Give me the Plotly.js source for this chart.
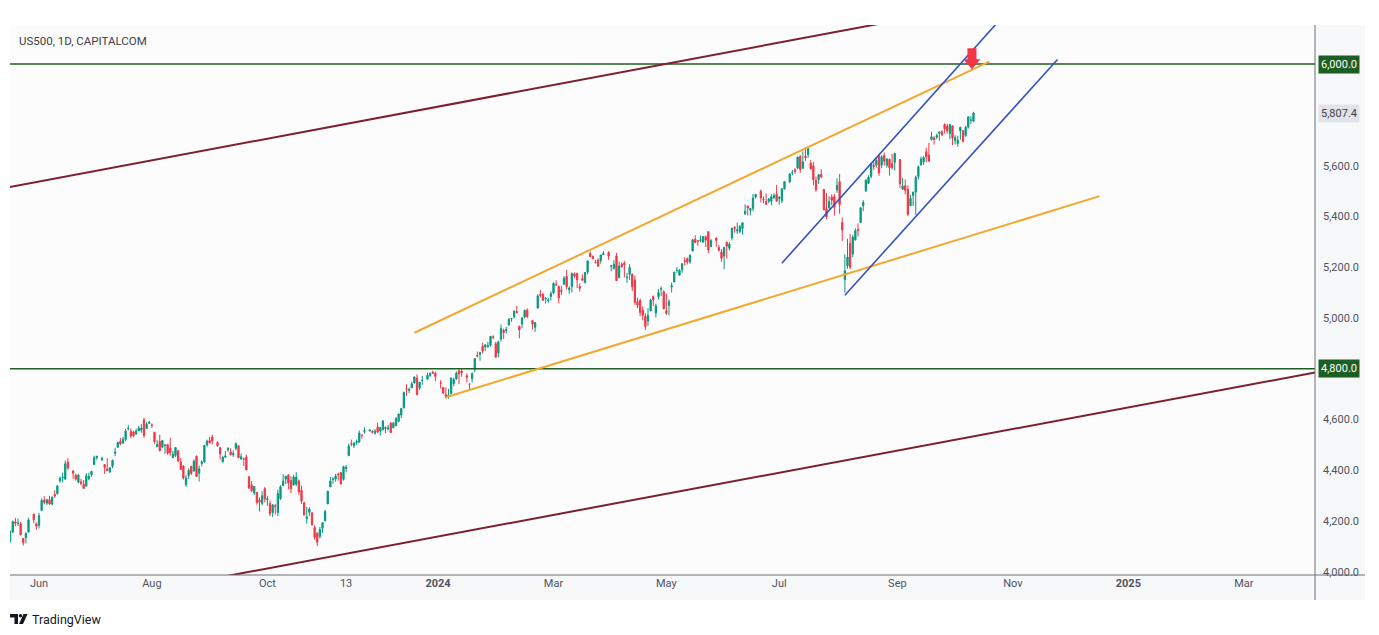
<!DOCTYPE html>
<html>
<head>
<meta charset="utf-8">
<script src="https://cdn.plot.ly/plotly-3.0.1.min.js"></script>
<style>
  html,body{margin:0;padding:0;background:#ffffff;}
  #chart{width:1379px;height:635px;}
</style>
</head>
<body>
<div id="chart"></div>
<script>
// ---------------- DATA ----------------
const dates = [
 '2023-05-17','2023-05-18','2023-05-19','2023-05-22','2023-05-23','2023-05-24','2023-05-25','2023-05-26','2023-05-30','2023-05-31',
 '2023-06-01','2023-06-02','2023-06-05','2023-06-06','2023-06-07','2023-06-08','2023-06-09','2023-06-12','2023-06-13','2023-06-14','2023-06-15','2023-06-16','2023-06-20','2023-06-21','2023-06-22','2023-06-23','2023-06-26','2023-06-27','2023-06-28','2023-06-29','2023-06-30',
 '2023-07-03','2023-07-05','2023-07-06','2023-07-07','2023-07-10','2023-07-11','2023-07-12','2023-07-13','2023-07-14','2023-07-17','2023-07-18','2023-07-19','2023-07-20','2023-07-21','2023-07-24','2023-07-25','2023-07-26','2023-07-27','2023-07-28','2023-07-31',
 '2023-08-01','2023-08-02','2023-08-03','2023-08-04','2023-08-07','2023-08-08','2023-08-09','2023-08-10','2023-08-11','2023-08-14','2023-08-15','2023-08-16','2023-08-17','2023-08-18','2023-08-21','2023-08-22','2023-08-23','2023-08-24','2023-08-25','2023-08-28','2023-08-29','2023-08-30','2023-08-31',
 '2023-09-01','2023-09-05','2023-09-06','2023-09-07','2023-09-08','2023-09-11','2023-09-12','2023-09-13','2023-09-14','2023-09-15','2023-09-18','2023-09-19','2023-09-20','2023-09-21','2023-09-22','2023-09-25','2023-09-26','2023-09-27','2023-09-28','2023-09-29',
 '2023-10-02','2023-10-03','2023-10-04','2023-10-05','2023-10-06','2023-10-09','2023-10-10','2023-10-11','2023-10-12','2023-10-13','2023-10-16','2023-10-17','2023-10-18','2023-10-19','2023-10-20','2023-10-23','2023-10-24','2023-10-25','2023-10-26','2023-10-27','2023-10-30','2023-10-31',
 '2023-11-01','2023-11-02','2023-11-03','2023-11-06','2023-11-07','2023-11-08','2023-11-09','2023-11-10','2023-11-13','2023-11-14','2023-11-15','2023-11-16','2023-11-17','2023-11-20','2023-11-21','2023-11-22','2023-11-24','2023-11-27','2023-11-28','2023-11-29','2023-11-30',
 '2023-12-01','2023-12-04','2023-12-05','2023-12-06','2023-12-07','2023-12-08','2023-12-11','2023-12-12','2023-12-13','2023-12-14','2023-12-15','2023-12-18','2023-12-19','2023-12-20','2023-12-21','2023-12-22','2023-12-26','2023-12-27','2023-12-28','2023-12-29',
 '2024-01-02','2024-01-03','2024-01-04','2024-01-05','2024-01-08','2024-01-09','2024-01-10','2024-01-11','2024-01-12','2024-01-16','2024-01-17','2024-01-18','2024-01-19','2024-01-22','2024-01-23','2024-01-24','2024-01-25','2024-01-26','2024-01-29','2024-01-30','2024-01-31',
 '2024-02-01','2024-02-02','2024-02-05','2024-02-06','2024-02-07','2024-02-08','2024-02-09','2024-02-12','2024-02-13','2024-02-14','2024-02-15','2024-02-16','2024-02-20','2024-02-21','2024-02-22','2024-02-23','2024-02-26','2024-02-27','2024-02-28','2024-02-29',
 '2024-03-01','2024-03-04','2024-03-05','2024-03-06','2024-03-07','2024-03-08','2024-03-11','2024-03-12','2024-03-13','2024-03-14','2024-03-15','2024-03-18','2024-03-19','2024-03-20','2024-03-21','2024-03-22','2024-03-25','2024-03-26','2024-03-27','2024-03-28',
 '2024-04-01','2024-04-02','2024-04-03','2024-04-04','2024-04-05','2024-04-08','2024-04-09','2024-04-10','2024-04-11','2024-04-12','2024-04-15','2024-04-16','2024-04-17','2024-04-18','2024-04-19','2024-04-22','2024-04-23','2024-04-24','2024-04-25','2024-04-26','2024-04-29','2024-04-30',
 '2024-05-01','2024-05-02','2024-05-03','2024-05-06','2024-05-07','2024-05-08','2024-05-09','2024-05-10','2024-05-13','2024-05-14','2024-05-15','2024-05-16','2024-05-17','2024-05-20','2024-05-21','2024-05-22','2024-05-23','2024-05-24','2024-05-28','2024-05-29','2024-05-30','2024-05-31',
 '2024-06-03','2024-06-04','2024-06-05','2024-06-06','2024-06-07','2024-06-10','2024-06-11','2024-06-12','2024-06-13','2024-06-14','2024-06-17','2024-06-18','2024-06-20','2024-06-21','2024-06-24','2024-06-25','2024-06-26','2024-06-27','2024-06-28',
 '2024-07-01','2024-07-02','2024-07-03','2024-07-05','2024-07-08','2024-07-09','2024-07-10','2024-07-11','2024-07-12','2024-07-15','2024-07-16','2024-07-17','2024-07-18','2024-07-19','2024-07-22','2024-07-23','2024-07-24','2024-07-25','2024-07-26','2024-07-29','2024-07-30','2024-07-31',
 '2024-08-01','2024-08-02','2024-08-05','2024-08-06','2024-08-07','2024-08-08','2024-08-09','2024-08-12','2024-08-13','2024-08-14','2024-08-15','2024-08-16','2024-08-19','2024-08-20','2024-08-21','2024-08-22','2024-08-23','2024-08-26','2024-08-27','2024-08-28','2024-08-29','2024-08-30',
 '2024-09-03','2024-09-04','2024-09-05','2024-09-06','2024-09-09','2024-09-10','2024-09-11','2024-09-12','2024-09-13','2024-09-16','2024-09-17','2024-09-18','2024-09-19','2024-09-20','2024-09-23','2024-09-24','2024-09-25','2024-09-26','2024-09-27','2024-09-30',
 '2024-10-01','2024-10-02','2024-10-03','2024-10-04','2024-10-07','2024-10-08','2024-10-09','2024-10-10','2024-10-11'
];
const open = [
 4122,4157,4197,4191,4190,4132,4135,4157,4227,4190,
 4184,4242,4283,4271,4285,4268,4305,4308,4359,4371,4366,4433,4397,4381,4354,4355,4345,4338,4367,4383,4423,
 4450,4442,4423,4405,4394,4416,4467,4491,4514,4508,4522,4564,4554,4551,4543,4556,4558,4599,4565,4585,
 4579,4550,4494,4514,4491,4498,4502,4488,4450,4459,4478,4433,4417,4344,4380,4416,4397,4456,4389,4427,4433,4500,4518,
 4531,4510,4490,4434,4452,4481,4473,4462,4487,4497,4445,4445,4453,4375,4342,4311,4313,4283,4270,4328,
 4284,4270,4234,4260,4234,4289,4340,4366,4381,4360,4342,4346,4358,4322,4273,4210,4235,4233,4175,4153,4140,4172,
 4202,4268,4335,4364,4366,4385,4391,4365,4407,4458,4505,4497,4510,4511,4538,4553,4555,4554,4546,4571,4555,
 4560,4565,4564,4586,4568,4576,4593,4618,4647,4721,4715,4725,4744,4764,4725,4754,4759,4774,4786,4783,
 4745,4726,4698,4690,4703,4742,4760,4792,4791,4773,4739,4761,4797,4853,4857,4888,4886,4888,4892,4925,4899,
 4862,4917,4951,4950,4973,4996,5005,5026,4967,4977,5004,5031,4990,4964,5039,5093,5093,5075,5068,5085,
 5099,5131,5124,5109,5133,5164,5111,5124,5174,5175,5124,5155,5139,5181,5254,5243,5219,5228,5226,5250,
 5258,5205,5194,5245,5159,5212,5217,5158,5172,5172,5150,5064,5069,5031,5006,4988,5028,5084,5020,5084,5114,5103,
 5029,5050,5122,5142,5188,5169,5190,5226,5234,5221,5264,5310,5304,5305,5299,5320,5340,5281,5315,5278,5260,5244,
 5298,5275,5315,5357,5343,5341,5353,5410,5441,5424,5432,5477,5499,5467,5459,5460,5460,5474,5488,
 5471,5462,5508,5537,5572,5584,5591,5636,5590,5638,5644,5610,5599,5543,5545,5565,5506,5429,5433,5477,5478,5505,
 5537,5376,5152,5206,5294,5252,5308,5350,5376,5442,5501,5530,5558,5602,5603,5637,5602,5640,5602,5625,5608,5613,
 5624,5507,5521,5507,5442,5483,5496,5557,5603,5615,5655,5642,5702,5709,5712,5727,5733,5762,5755,5727,
 5757,5699,5688,5737,5738,5719,5752,5779,5775
];
const high = [
 4164,4202,4213,4210,4198,4133,4157,4213,4231,4195,
 4233,4290,4299,4288,4300,4298,4322,4340,4376,4391,4439,4448,4401,4387,4384,4367,4362,4389,4391,4399,4458,
 4456,4454,4423,4448,4412,4443,4489,4513,4528,4532,4563,4579,4565,4556,4564,4576,4582,4607,4590,4595,
 4585,4551,4519,4540,4520,4504,4503,4528,4477,4491,4478,4449,4421,4382,4408,4418,4443,4458,4419,4440,4501,4521,4532,
 4541,4514,4491,4457,4476,4491,4487,4479,4511,4498,4467,4450,4462,4376,4358,4338,4316,4293,4318,4334,
 4300,4281,4268,4268,4324,4341,4385,4378,4386,4377,4383,4393,4364,4340,4276,4256,4255,4235,4183,4156,4177,4195,
 4245,4319,4374,4373,4386,4391,4393,4418,4421,4505,4521,4511,4521,4557,4542,4569,4561,4558,4563,4588,4570,
 4596,4572,4579,4590,4590,4610,4623,4644,4710,4739,4726,4749,4769,4778,4749,4772,4785,4786,4793,4789,
 4755,4729,4727,4721,4765,4765,4790,4798,4803,4782,4744,4786,4842,4868,4866,4903,4898,4906,4929,4932,4906,
 4911,4975,4958,4965,4999,5000,5030,5048,4970,5003,5033,5038,4993,4984,5094,5111,5098,5081,5080,5105,
 5140,5149,5128,5127,5165,5190,5125,5180,5180,5179,5136,5172,5181,5226,5262,5246,5229,5235,5249,5264,
 5263,5208,5228,5256,5222,5219,5224,5178,5212,5176,5168,5080,5077,5046,5019,5039,5077,5089,5057,5114,5124,5110,
 5096,5074,5140,5181,5200,5192,5215,5240,5238,5251,5311,5326,5306,5325,5323,5325,5342,5311,5316,5288,5272,5281,
 5302,5299,5355,5362,5376,5366,5376,5448,5442,5433,5488,5488,5506,5478,5490,5473,5488,5491,5524,
 5480,5510,5540,5570,5583,5590,5635,5642,5656,5670,5669,5622,5615,5557,5567,5586,5509,5492,5480,5487,5489,5551,
 5567,5396,5251,5312,5331,5327,5353,5372,5436,5464,5546,5562,5608,5621,5633,5643,5641,5652,5630,5628,5646,5651,
 5626,5552,5546,5522,5485,5497,5561,5601,5636,5637,5671,5690,5734,5716,5726,5736,5741,5767,5765,5763,
 5757,5720,5718,5753,5739,5757,5796,5795,5812
];
const low = [
 4114,4154,4180,4181,4145,4104,4112,4155,4192,4166,
 4171,4242,4266,4264,4264,4262,4292,4305,4351,4353,4362,4402,4367,4360,4349,4341,4328,4336,4361,4375,4423,
 4442,4437,4386,4397,4389,4409,4456,4490,4499,4504,4515,4557,4527,4532,4541,4555,4548,4528,4563,4583,
 4567,4505,4491,4474,4491,4464,4461,4458,4448,4453,4432,4404,4364,4335,4366,4382,4397,4375,4356,4416,4431,4493,4507,
 4502,4493,4443,4431,4451,4473,4459,4453,4479,4448,4442,4417,4402,4329,4316,4303,4265,4238,4262,4274,
 4260,4220,4217,4226,4220,4284,4339,4346,4325,4311,4342,4338,4304,4268,4223,4190,4220,4181,4127,4103,4132,4154,
 4198,4268,4335,4347,4355,4360,4344,4360,4393,4458,4495,4488,4500,4510,4525,4545,4554,4545,4541,4547,4537,
 4557,4546,4557,4547,4566,4574,4590,4606,4643,4694,4704,4724,4743,4697,4716,4737,4759,4768,4780,4751,
 4722,4700,4683,4682,4699,4731,4756,4740,4769,4747,4714,4746,4786,4844,4832,4860,4870,4882,4888,4916,4845,
 4845,4907,4918,4940,4970,4985,4999,5017,4920,4960,4999,4999,4955,4946,5039,5081,5069,5057,5060,5069,
 5094,5127,5058,5091,5131,5112,5096,5101,5157,5118,5104,5146,5138,5172,5240,5230,5215,5203,5214,5248,
 5229,5184,5194,5146,5157,5198,5160,5138,5150,5107,5052,5039,5007,4991,4953,4969,5027,5047,5002,5073,5086,5035,
 5013,5011,5101,5142,5178,5166,5178,5207,5211,5214,5263,5296,5284,5299,5297,5280,5256,5279,5281,5262,5222,5192,
 5235,5266,5306,5336,5331,5333,5328,5406,5404,5404,5421,5470,5455,5452,5446,5452,5444,5469,5460,
 5446,5453,5507,5531,5562,5568,5586,5572,5586,5619,5631,5584,5523,5497,5528,5550,5424,5390,5430,5444,5403,5493,
 5410,5303,5100,5194,5192,5240,5305,5321,5376,5421,5496,5528,5550,5584,5592,5560,5590,5600,5592,5561,5585,5581,
 5511,5505,5487,5402,5442,5441,5406,5545,5601,5603,5614,5615,5700,5683,5705,5698,5717,5727,5727,5704,
 5681,5683,5675,5703,5691,5714,5746,5764,5771
];
const close = [
 4159,4198,4192,4193,4146,4115,4151,4205,4206,4180,
 4221,4282,4274,4284,4268,4294,4299,4339,4369,4373,4426,4410,4389,4366,4382,4348,4329,4378,4377,4396,4450,
 4456,4447,4412,4399,4410,4439,4472,4510,4505,4523,4555,4566,4535,4536,4555,4567,4567,4537,4582,4589,
 4577,4513,4502,4478,4518,4499,4468,4469,4464,4490,4438,4404,4370,4370,4400,4388,4436,4376,4406,4433,4498,4515,4508,
 4516,4497,4465,4451,4457,4487,4462,4467,4505,4450,4454,4444,4402,4330,4320,4337,4274,4275,4300,4288,
 4288,4229,4264,4258,4309,4336,4358,4377,4350,4328,4374,4373,4315,4278,4224,4217,4248,4187,4137,4117,4167,4194,
 4238,4318,4358,4366,4378,4383,4347,4415,4412,4496,4503,4508,4514,4547,4538,4557,4559,4550,4555,4551,4568,
 4595,4570,4567,4549,4586,4604,4622,4644,4707,4720,4719,4741,4768,4698,4747,4755,4775,4782,4783,4770,
 4743,4705,4689,4697,4764,4757,4783,4780,4784,4766,4739,4781,4840,4850,4865,4869,4894,4891,4928,4925,4846,
 4906,4959,4943,4954,4995,4998,5027,5022,4953,5001,5030,5006,4976,4982,5087,5089,5070,5078,5070,5096,
 5137,5131,5079,5105,5157,5124,5118,5175,5165,5150,5117,5149,5179,5225,5242,5234,5218,5204,5248,5254,
 5244,5206,5211,5147,5204,5202,5210,5161,5199,5123,5062,5051,5022,5011,4967,5011,5071,5072,5048,5100,5116,5036,
 5018,5064,5128,5181,5188,5188,5214,5223,5221,5247,5308,5297,5303,5308,5321,5307,5268,5305,5306,5267,5235,5278,
 5283,5291,5354,5353,5347,5361,5375,5421,5434,5432,5473,5487,5473,5465,5448,5469,5478,5483,5460,
 5475,5509,5537,5567,5573,5577,5634,5585,5615,5631,5667,5588,5545,5505,5564,5556,5427,5399,5459,5464,5436,5522,
 5447,5347,5186,5240,5200,5319,5344,5344,5434,5455,5543,5554,5608,5597,5621,5571,5635,5617,5626,5592,5592,5648,
 5529,5520,5503,5408,5471,5496,5554,5596,5626,5633,5635,5618,5714,5703,5719,5733,5722,5745,5738,5762,
 5709,5710,5700,5751,5696,5751,5792,5780,5807.4
];

// horizontal levels and last price
const levels = [6000, 4800];
const levelLabels = ['6,000.0', '4,800.0'];
const lastPrice = 5807.4;
const lastPriceLabel = '5,807.4';

// drawn trend lines: start date/price, end date/price
const lineKinds  = ['channel','channel','wedge','wedge','rise','rise'];
const lineStartX = ['2023-05-16','2023-09-07','2023-12-19','2024-01-04','2024-07-02','2024-08-05'];
const lineStartY = [5514, 3981, 4942, 4688, 5216, 5090];
const lineEndX   = ['2024-09-05','2025-04-17','2024-10-21','2024-12-18','2024-10-31','2024-11-26'];
const lineEndY   = [6178, 4797, 6010, 5480, 6220, 6018];

// target marker (arrow tip)
const arrowX = '2024-10-10 10:00';
const arrowY = 5980;

// axes
const xTickVals = ['2023-06-01','2023-08-01','2023-10-02','2023-11-13','2024-01-01','2024-03-01','2024-05-01','2024-07-01','2024-09-02','2024-11-01','2025-01-02','2025-03-05'];
const xTickText = ['Jun','Aug','Oct','13','<b>2024</b>','Mar','May','Jul','Sep','Nov','<b>2025</b>','Mar'];
const yTickVals = [4000,4200,4400,4600,5000,5200,5400,5600];
const yTickText = ['4,000.0','4,200.0','4,400.0','4,600.0','5,000.0','5,200.0','5,400.0','5,600.0'];
const xRange = ['2023-05-16 22:48','2025-04-11 02:24'];
const yRange = [3988, 6154];

// ---------------- STYLE ----------------
const UP = '#089981', DOWN = '#f23645';
const kindColor = {channel:'#7e1f2e', wedge:'#f2a830', rise:'#3552c4'};
const kindWidth = {channel:2, wedge:2, rise:1.6};
const LEVEL = '#1d5e22';
const FONT = 'Roboto, "Noto Sans", sans-serif';
const AXISLINE = '#6b6e78';
const STRIP = '#f7f8fa';

const traces = [{
  type:'candlestick',
  x:dates, open:open, high:high, low:low, close:close,
  increasing:{line:{color:UP,width:1}, fillcolor:UP},
  decreasing:{line:{color:DOWN,width:1}, fillcolor:DOWN},
  whiskerwidth:0,
  hoverinfo:'skip',
  showlegend:false
}];

const stripTop = -25/550;      // bottom of x-axis strip (paper)
const rightEdge = 1355/1305;   // right edge of price-scale column (paper)

const shapes = [];
// background strips for axis areas
shapes.push({type:'rect', xref:'paper', yref:'paper', x0:0, x1:rightEdge, y0:stripTop, y1:0, fillcolor:STRIP, line:{width:0}, layer:'below'});
shapes.push({type:'rect', xref:'paper', yref:'paper', x0:1, x1:rightEdge, y0:0, y1:1, fillcolor:STRIP, line:{width:0}, layer:'below'});
// level lines
levels.forEach(v => shapes.push({type:'line', xref:'paper', yref:'y', x0:0, x1:1, y0:v, y1:v, line:{color:LEVEL, width:1.5}}));
// trend lines
lineKinds.forEach((k,i) => shapes.push({type:'line', xref:'x', yref:'y',
  x0:lineStartX[i], y0:lineStartY[i], x1:lineEndX[i], y1:lineEndY[i],
  line:{color:kindColor[k], width:kindWidth[k]}}));
// axis lines
shapes.push({type:'line', xref:'paper', yref:'paper', x0:0, x1:rightEdge, y0:0, y1:0, line:{color:AXISLINE, width:1}});
shapes.push({type:'line', xref:'paper', yref:'paper', x0:1, x1:1, y0:stripTop, y1:1, line:{color:AXISLINE, width:1}});
// red arrow marker
shapes.push({type:'path', xref:'x', yref:'y', xsizemode:'pixel', ysizemode:'pixel',
  xanchor:arrowX, yanchor:arrowY,
  path:'M0,0 L8.5,10 L4.5,10 L4.5,21 L-4.5,21 L-4.5,10 L-8.5,10 Z',
  fillcolor:'#f23645', line:{width:0}});
// TradingView logo
shapes.push({type:'path', xref:'paper', yref:'paper', xsizemode:'pixel', ysizemode:'pixel', xanchor:0, yanchor:0,
  path:'M0,-39 L8,-39 L8,-49 L4.5,-49 L4.5,-42.5 L0,-42.5 Z', fillcolor:'#131722', line:{width:0}});
shapes.push({type:'circle', xref:'paper', yref:'paper', xsizemode:'pixel', ysizemode:'pixel', xanchor:0, yanchor:0,
  x0:8.8, x1:12.2, y0:-39, y1:-42.4, fillcolor:'#131722', line:{width:0}});
shapes.push({type:'path', xref:'paper', yref:'paper', xsizemode:'pixel', ysizemode:'pixel', xanchor:0, yanchor:0,
  path:'M13.5,-39 L17.5,-39 L13,-49 L9,-49 Z', fillcolor:'#131722', line:{width:0}});

const annotations = [];
annotations.push({xref:'paper', yref:'paper', x:7/1305, y:534/550, xanchor:'left', yanchor:'middle',
  text:'US500, 1D, CAPITALCOM', showarrow:false, font:{family:FONT, size:11.5, color:'#3d4048'}});
annotations.push({xref:'paper', yref:'paper', x:20/1305, y:-44/550, xanchor:'left', yanchor:'middle',
  text:'TradingView', showarrow:false, font:{family:FONT, size:12.5, color:'#131722'}});
levels.forEach((v,i) => annotations.push({xref:'paper', yref:'y', x:1, y:v, xanchor:'left', yanchor:'middle', xshift:3,
  text:levelLabels[i], showarrow:false, bgcolor:LEVEL, borderpad:2, font:{family:FONT, size:11, color:'#ffffff'}}));
annotations.push({xref:'paper', yref:'y', x:1, y:lastPrice, xanchor:'left', yanchor:'middle', xshift:3,
  text:lastPriceLabel, showarrow:false, bgcolor:'#e1e3e8', borderpad:2, font:{family:FONT, size:11, color:'#3d4048'}});

const layout = {
  width:1379, height:635,
  margin:{l:10, r:64, t:25, b:60, pad:0},
  paper_bgcolor:'#ffffff',
  plot_bgcolor:'#fcfcfd',
  showlegend:false,
  dragmode:false,
  xaxis:{
    type:'date', range:xRange,
    rangebreaks:[{bounds:['sat','mon']}],
    rangeslider:{visible:false},
    tickmode:'array', tickvals:xTickVals, ticktext:xTickText,
    showgrid:false, zeroline:false, showline:false, ticks:'',
    tickfont:{family:FONT, size:11, color:'#50535e'},
    fixedrange:true
  },
  yaxis:{
    side:'right', range:yRange,
    tickmode:'array', tickvals:yTickVals, ticktext:yTickText,
    showgrid:false, zeroline:false, showline:false, ticks:'',
    ticklabelstandoff:7,
    tickfont:{family:FONT, size:11, color:'#50535e'},
    fixedrange:true
  },
  shapes:shapes,
  annotations:annotations
};

Plotly.newPlot('chart', traces, layout, {staticPlot:true, displayModeBar:false});
</script>
</body>
</html>
